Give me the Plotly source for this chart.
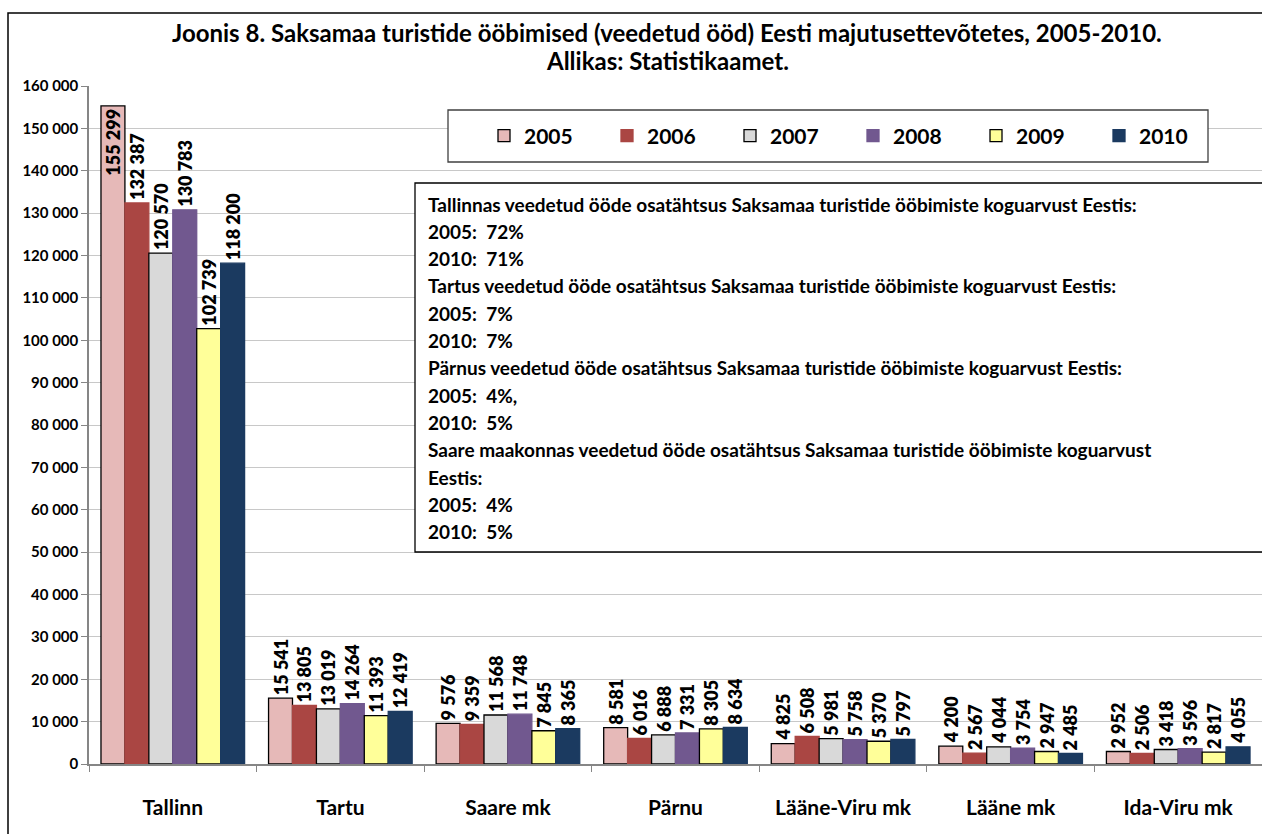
import plotly.graph_objects as go

regions = ["Tallinn", "Tartu", "Saare mk", "Pärnu", "Lääne-Viru mk", "Lääne mk", "Ida-Viru mk"]
years = ["2005", "2006", "2007", "2008", "2009", "2010"]

y2005 = [155299, 15541, 9576, 8581, 4825, 4200, 2952]
y2006 = [132387, 13805, 9359, 6016, 6508, 2567, 2506]
y2007 = [120570, 13019, 11568, 6888, 5981, 4044, 3418]
y2008 = [130783, 14264, 11748, 7331, 5758, 3754, 3596]
y2009 = [102739, 11393, 7845, 8305, 5370, 2947, 2817]
y2010 = [118200, 12419, 8365, 8634, 5797, 2485, 4055]
series = [y2005, y2006, y2007, y2008, y2009, y2010]

colors = ["#E6B9B8", "#AA4643", "#D9D9D9", "#71588F", "#FFFF99", "#1B3A60"]
outlined = [True, False, True, False, True, False]

NB = "\u00a0"
info_lines = [
    "Tallinnas veedetud ööde osatähtsus Saksamaa turistide ööbimiste koguarvust Eestis:",
    "2005:" + NB * 2 + "72%",
    "2010:" + NB * 2 + "71%",
    "Tartus veedetud ööde osatähtsus Saksamaa turistide ööbimiste koguarvust Eestis:",
    "2005:" + NB * 2 + "7%",
    "2010:" + NB * 2 + "7%",
    "Pärnus veedetud ööde osatähtsus Saksamaa turistide ööbimiste koguarvust Eestis:",
    "2005:" + NB * 2 + "4%,",
    "2010:" + NB * 2 + "5%",
    "Saare maakonnas veedetud ööde osatähtsus Saksamaa turistide ööbimiste koguarvust",
    "Eestis:",
    "2005:" + NB * 2 + "4%",
    "2010:" + NB * 2 + "5%",
]

FONT = "Lato, Liberation Sans, sans-serif"
W, H = 1262, 834
L, R, T, B = 89, 0, 86, 70
PW, PH = W - L - R, H - T - B


def px2x(px):
    return (px - L) / PW


def py2y(py):
    return (H - B - py) / PH


fig = go.Figure()
for i, (yr, vals) in enumerate(zip(years, series)):
    pos = ["outside"] * len(vals)
    if i == 0:
        pos[0] = "inside"  # no room above the tallest bar
    fig.add_trace(go.Bar(
        x=regions, y=vals, name=yr,
        marker=dict(color=colors[i],
                    line=dict(color="#000000" if outlined[i] else colors[i], width=1.3)),
        texttemplate="%{y:,d}", textposition=pos, textangle=-90,
        insidetextanchor="end", constraintext="none", cliponaxis=False,
        textfont=dict(family=FONT, size=18, color="#000000", weight=800),
    ))

shapes = [
    # outer chart border (right and bottom are outside the view)
    dict(type="rect", xref="paper", yref="paper", x0=px2x(8), x1=px2x(1300),
         y0=py2y(900), y1=py2y(13), line=dict(color="#000000", width=1.5)),
    # legend box
    dict(type="rect", xref="paper", yref="paper", x0=px2x(448), x1=px2x(1208),
         y0=py2y(162), y1=py2y(110), line=dict(color="#404040", width=1.3),
         fillcolor="white"),
    # info box
    dict(type="rect", xref="paper", yref="paper", x0=px2x(415), x1=px2x(1300),
         y0=py2y(552), y1=py2y(183), line=dict(color="#000000", width=1.3),
         fillcolor="white"),
]

annotations = [
    dict(text="<b>Joonis 8. Saksamaa turistide ööbimised (veedetud ööd) Eesti majutusettevõtetes, 2005-2010.</b>",
         xref="paper", yref="paper", x=px2x(667), y=py2y(32), xanchor="center", yanchor="middle",
         showarrow=False, font=dict(family=FONT, size=24, color="#000000")),
    dict(text="<b>Allikas: Statistikaamet.</b>",
         xref="paper", yref="paper", x=px2x(667), y=py2y(61), xanchor="center", yanchor="middle",
         showarrow=False, font=dict(family=FONT, size=24, color="#000000")),
]
for k, line in enumerate(info_lines):
    annotations.append(dict(
        text="<b>" + line + "</b>", xref="paper", yref="paper",
        x=px2x(426), y=py2y(204 + k * 27.33), xanchor="left", yanchor="middle",
        showarrow=False, font=dict(family=FONT, size=19, color="#000000"),
    ))

fig.update_layout(
    width=W, height=H, margin=dict(l=L, r=R, t=T, b=B),
    paper_bgcolor="white", plot_bgcolor="white",
    separators=", ", barmode="group", bargap=0.143, bargroupgap=0,
    font=dict(family=FONT, color="#000000"),
    shapes=shapes, annotations=annotations,
    legend=dict(orientation="h", x=px2x(484), y=py2y(136), xanchor="left", yanchor="middle",
                bgcolor="rgba(0,0,0,0)", borderwidth=0, entrywidth=78, entrywidthmode="pixels",
                font=dict(family=FONT, size=21, color="#000000", weight="bold")),
    xaxis=dict(showline=True, linecolor="#868686", linewidth=1.5, ticks="outside",
               tickson="boundaries", ticklen=6, tickcolor="#868686", range=[-0.5, 6.5],
               ticklabelstandoff=24,
               tickfont=dict(family=FONT, size=21, color="#000000", weight="bold")),
    yaxis=dict(range=[0, 160000], dtick=10000, tickformat=",d", showline=True,
               linecolor="#868686", linewidth=1.5, ticks="outside", ticklen=6,
               tickcolor="#868686", showgrid=True, gridcolor="#C8C8C8", gridwidth=1.3,
               zeroline=False,
               tickfont=dict(family=FONT, size=15, color="#000000", weight="bold")),
)

fig.write_html("out.html", config={"displayModeBar": False},
               post_script="document.body.style.margin='0';")
